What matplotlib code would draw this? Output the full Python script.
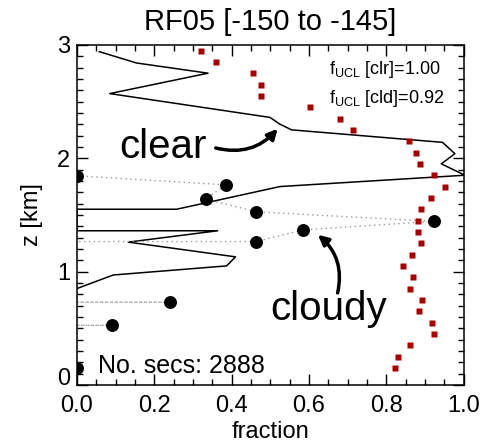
import matplotlib
matplotlib.use("Agg")
import matplotlib.pyplot as plt
import numpy as np
from matplotlib.ticker import MultipleLocator, FixedLocator

plt.rcParams['font.family'] = ['Liberation Sans', 'DejaVu Sans']
plt.rcParams['mathtext.fontset'] = 'custom'
plt.rcParams['mathtext.rm'] = 'Liberation Sans'

# clear-sky fraction profile (red squares), 100 m bins
z_bins = [2.95, 2.85, 2.75, 2.65, 2.55, 2.45, 2.35, 2.25, 2.15, 2.05,
          1.95, 1.85, 1.75, 1.65, 1.55, 1.45, 1.35, 1.25, 1.15, 1.05,
          0.95, 0.85, 0.75, 0.65, 0.55, 0.45, 0.35, 0.25, 0.15]
f_ucl = [0.321, 0.359, 0.456, 0.475, 0.476, 0.602, 0.681, 0.714, 0.858, 0.876,
         0.888, 0.922, 0.952, 0.916, 0.889, 0.883, 0.881, 0.889, 0.867, 0.844,
         0.869, 0.862, 0.891, 0.885, 0.919, 0.924, 0.862, 0.831, 0.822]

# clear profile (solid line)
clr_z = [2.94, 2.84, 2.75, 2.57, 2.36, 2.30, 2.25, 2.14, 2.04, 1.95,
         1.85, 1.75, 1.55, 1.55, 1.36, 1.36, 1.26, 1.13, 1.05, 0.97, 0.85]
clr_f = [0.058, 0.154, 0.339, 0.085, 0.499, 0.525, 0.555, 0.945, 0.977, 0.942,
         1.003, 0.525, 0.258, 0.0, 0.0, 0.364, 0.133, 0.41, 0.387, 0.094, 0.0]

# cloudy profile (black dots)
cld_z = [1.845, 1.765, 1.64, 1.527, 1.443, 1.368, 1.265, 0.73, 0.526, 0.153]
cld_f = [0.0, 0.385, 0.333, 0.464, 0.922, 0.585, 0.464, 0.24, 0.09, 0.0]

n_secs = 2888
fucl_clr = 1.00
fucl_cld = 0.92

# dotted connector drops to zero across gaps in the cloudy profile
line_f, line_z = [], []
for i, (f, z) in enumerate(zip(cld_f, cld_z)):
    if i > 0 and cld_z[i - 1] - z > 0.15:
        line_f += [0.0, 0.0]
        line_z += [cld_z[i - 1], z]
    line_f.append(f)
    line_z.append(z)

fig = plt.figure(figsize=(4.96, 4.44), dpi=100)
ax = fig.add_axes([0.155, 0.133, 0.78, 0.766])

ax.plot(clr_f, clr_z, color='black', lw=1.1)
ax.plot(line_f, line_z, color='#999999', lw=1.0, ls=(0, (1, 2.5)))
ax.plot(cld_f, cld_z, 'o', color='black', ms=8.3)
ax.plot(f_ucl, z_bins, 's', color='#a50000', ms=4.2, mec='none')

ax.set_xlim(0, 1)
ax.set_ylim(0, 3)
ax.xaxis.set_major_locator(MultipleLocator(0.2))
ax.xaxis.set_minor_locator(MultipleLocator(0.05))
ax.yaxis.set_major_locator(FixedLocator([0, 1, 2, 3]))
ax.yaxis.set_minor_locator(MultipleLocator(0.1))
ax.xaxis.set_major_formatter(lambda v, p: f'{v:.1f}')
ax.tick_params(which='both', direction='in', top=True, right=True,
               labelsize=17, width=1.0)
ax.tick_params(which='major', length=8)
ax.tick_params(which='minor', length=4)
ax.tick_params(axis='x', pad=7)
ax.tick_params(axis='y', pad=5)
for sp in ax.spines.values():
    sp.set_linewidth(1.1)

ax.set_xlabel('fraction', fontsize=17, labelpad=3)
ax.set_ylabel('z [km]', fontsize=17, labelpad=10)
ax.set_title('RF05 [-150 to -145]', fontsize=21, pad=11)

ax.text(0.651, 2.74, r'$\mathrm{f}_{\mathrm{UCL}}$ [clr]=%.2f' % fucl_clr, fontsize=13)
ax.text(0.651, 2.49, r'$\mathrm{f}_{\mathrm{UCL}}$ [cld]=%.2f' % fucl_cld, fontsize=13)
ax.text(0.054, 0.106, f'No. secs: {n_secs}', fontsize=18)

ax.text(0.109, 2.0, 'clear', fontsize=29)
ax.annotate('', xy=(0.519, 2.26), xytext=(0.359, 2.09),
            arrowprops=dict(arrowstyle='-|>,head_length=0.6,head_width=0.3',
                            connectionstyle='arc3,rad=0.3', lw=2.5,
                            color='black', shrinkA=0, shrinkB=0))
ax.text(0.499, 0.574, 'cloudy', fontsize=29)
ax.annotate('', xy=(0.623, 1.324), xytext=(0.674, 0.812),
            arrowprops=dict(arrowstyle='-|>,head_length=0.6,head_width=0.3',
                            connectionstyle='arc3,rad=0.3', lw=2.5,
                            color='black', shrinkA=0, shrinkB=0))

# lift the "0" on the z axis so it sits above the x tick labels
fig.canvas.draw()
for tick in ax.yaxis.get_major_ticks():
    if tick.get_loc() == 0:
        tick.label1.set_verticalalignment('baseline')

fig.savefig('out.png', dpi=100)
